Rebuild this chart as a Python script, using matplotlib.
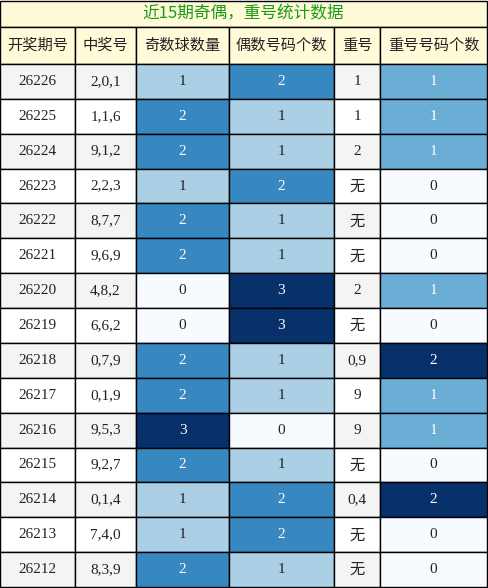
import matplotlib
matplotlib.use("Agg")
import matplotlib.pyplot as plt
from matplotlib.patches import Rectangle
from matplotlib import cm, colors

title = "近15期奇偶，重号统计数据"
headers = ["开奖期号", "中奖号", "奇数球数量", "偶数号码个数", "重号", "重号号码个数"]
periods = ["26226","26225","26224","26223","26222","26221","26220","26219","26218","26217","26216","26215","26214","26213","26212"]
numbers = ["2,0,1","1,1,6","9,1,2","2,2,3","8,7,7","9,6,9","4,8,2","6,6,2","0,7,9","0,1,9","9,5,3","9,2,7","0,1,4","7,4,0","8,3,9"]
odd_cnt = [1,2,2,1,2,2,0,0,2,2,3,2,1,1,2]
even_cnt = [2,1,1,2,1,1,3,3,1,1,0,1,2,2,1]
repeat = ["1","1","2","无","无","无","2","无","0,9","9","9","无","0,4","无","无"]
repeat_cnt = [1,1,1,0,0,0,1,0,2,1,1,0,2,0,0]

W, H = 488, 588
fig = plt.figure(figsize=(W/100, H/100), dpi=100)
ax = fig.add_axes([0, 0, 1, 1])
ax.set_xlim(0, W); ax.set_ylim(H, 0); ax.axis("off")

xs = [0, 75, 136, 229, 334, 380, 487]
title_h, head_b = 27, 64
row_h = (H - 1 - head_b) / len(periods)
cjk = ["Noto Sans CJK SC", "DejaVu Sans"]
serif = ["Liberation Serif", "Noto Sans CJK SC"]
yellow = "#fffbd9"
blue_odd = {0: "#f7fbff", 1: "#abd0e6", 2: "#3787c0", 3: "#08306b"}
blue_rep = {0: "#f7fbff", 1: "#6aaed6", 2: "#08306b"}

def cell(x0, x1, y0, y1, fc, text, tc="#222222", fam=serif, size=11):
    ax.add_patch(Rectangle((x0, y0), x1-x0, y1-y0, facecolor=fc, edgecolor="black", lw=1))
    ax.text((x0+x1)/2, (y0+y1)/2, text, ha="center", va="center", color=tc, family=fam, fontsize=size)

cell(xs[0], xs[-1], 1, title_h, yellow, title, tc="#1a9a1a", fam=cjk, size=12)
for j, h in enumerate(headers):
    cell(xs[j], xs[j+1], title_h, head_b, yellow, h, tc="#222222", fam=cjk, size=11)

for i in range(len(periods)):
    y0 = head_b + i*row_h; y1 = y0 + row_h
    base = "#f4f4f4" if i % 2 == 0 else "white"
    cell(xs[0], xs[1], y0, y1, base, periods[i])
    cell(xs[1], xs[2], y0, y1, base, numbers[i])
    v = odd_cnt[i]
    cell(xs[2], xs[3], y0, y1, blue_odd[v], str(v), tc="white" if v >= 2 else "#222222")
    v = even_cnt[i]
    cell(xs[3], xs[4], y0, y1, blue_odd[v], str(v), tc="white" if v >= 2 else "#222222")
    r = repeat[i]
    cell(xs[4], xs[5], y0, y1, base, r, fam=cjk if r == "无" else serif, size=11)
    v = repeat_cnt[i]
    cell(xs[5], xs[6], y0, y1, blue_rep[v], str(v), tc="white" if v >= 1 else "#222222")

fig.savefig("out.png", dpi=100)
